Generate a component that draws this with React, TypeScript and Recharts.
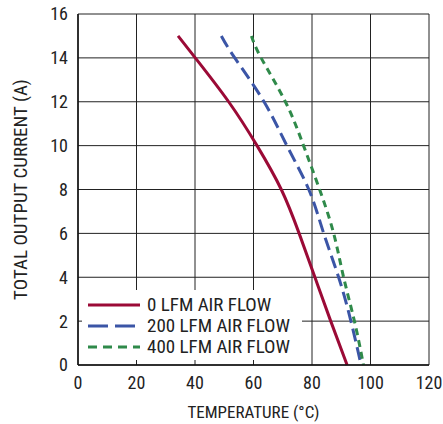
import { CartesianGrid, Legend, Line, LineChart, XAxis, YAxis } from "recharts"

// output current levels (A), read top to bottom off each curve
const currentLevels = [15, 14, 12, 10, 8, 6, 4, 2, 0]

// temperature (°C) where each curve crosses the current levels above
const temp0Lfm = [34.2, 40.1, 51.5, 61.2, 69.5, 75.6, 81.0, 86.4, 92]
const temp200Lfm = [49, 53.6, 63.6, 71.4, 78.9, 84, 89.1, 93.3, 96.8]
const temp400Lfm = [59.3, 62.6, 70.9, 77.1, 82.6, 87.4, 90.8, 94.5, 97.6]

const xTicks = [0, 20, 40, 60, 80, 100, 120]
const yTicks = [0, 2, 4, 6, 8, 10, 12, 14, 16]

const seriesNames = ["0 LFM AIR FLOW", "200 LFM AIR FLOW", "400 LFM AIR FLOW"]

const toPoints = (temps: number[]) =>
  temps.map((t, i) => ({ temp: t, current: currentLevels[i] }))

const font = "'Liberation Sans Narrow', 'Arial Narrow', 'Roboto Condensed', 'Liberation Sans', sans-serif"

const RED = "#9b0a36"
const BLUE = "#3b55a6"
const GREEN = "#2f8a4a"

const legendItems = [
  { name: seriesNames[0], color: RED, dash: undefined },
  { name: seriesNames[1], color: BLUE, dash: "20 7" },
  { name: seriesNames[2], color: GREEN, dash: "9 6" },
]

function ChartLegend() {
  return (
    <div style={{ background: "#fff", width: "100%", height: "100%", fontFamily: font }}>
      {legendItems.map((item, i) => (
        <div
          key={item.name}
          style={{
            position: "absolute",
            left: 6,
            top: 4 + i * 21,
            height: 21,
            display: "flex",
            alignItems: "center",
            whiteSpace: "nowrap",
          }}
        >
          <svg width={52} height={6} style={{ marginRight: 7 }}>
            <line x1={0} y1={3} x2={52} y2={3} stroke={item.color} strokeWidth={3.2} strokeDasharray={item.dash} />
          </svg>
          <span style={{ fontSize: 19, color: "#222" }}>{item.name}</span>
        </div>
      ))}
    </div>
  )
}

export default function App() {
  return (
    <div style={{ position: "absolute", left: 0, top: 0, background: "#fff" }}>
      <LineChart width={443} height={424} margin={{ top: 14, right: 14, bottom: 0, left: 0 }}>
        <CartesianGrid stroke="#222" strokeWidth={1} />
        <XAxis
          type="number"
          dataKey="temp"
          domain={[0, 120]}
          ticks={xTicks}
          height={59}
          tickSize={0}
          tickMargin={11}
          stroke="#111"
          strokeWidth={1.5}
          tick={{ fill: "#222", fontSize: 18, fontFamily: font }}
          label={{ value: "TEMPERATURE (°C)", position: "insideBottom", offset: 6, fill: "#222", fontSize: 17, fontFamily: font }}
        />
        <YAxis
          type="number"
          dataKey="current"
          domain={[0, 16]}
          ticks={yTicks}
          width={78}
          tickSize={0}
          tickMargin={10}
          stroke="#111"
          strokeWidth={1.5}
          tick={{ fill: "#222", fontSize: 18, fontFamily: font }}
          label={{
            value: "TOTAL OUTPUT CURRENT (A)",
            angle: -90,
            position: "insideLeft",
            offset: 20,
            fill: "#222",
            fontSize: 19,
            fontFamily: font,
            style: { textAnchor: "middle" },
          }}
        />
        <Legend
          layout="horizontal"
          verticalAlign="middle"
          align="center"
          wrapperStyle={{ position: "absolute", left: 82, top: 290, width: 220, height: 70 }}
          content={() => <ChartLegend />}
        />
        <Line
          data={toPoints(temp0Lfm)}
          dataKey="current"
          name={seriesNames[0]}
          type="natural"
          stroke={RED}
          strokeWidth={3}
          dot={false}
          isAnimationActive={false}
        />
        <Line
          data={toPoints(temp200Lfm)}
          dataKey="current"
          name={seriesNames[1]}
          type="natural"
          stroke={BLUE}
          strokeWidth={3}
          strokeDasharray="13 6"
          dot={false}
          isAnimationActive={false}
        />
        <Line
          data={toPoints(temp400Lfm)}
          dataKey="current"
          name={seriesNames[2]}
          type="natural"
          stroke={GREEN}
          strokeWidth={3}
          strokeDasharray="7 5"
          dot={false}
          isAnimationActive={false}
        />
      </LineChart>
    </div>
  )
}
